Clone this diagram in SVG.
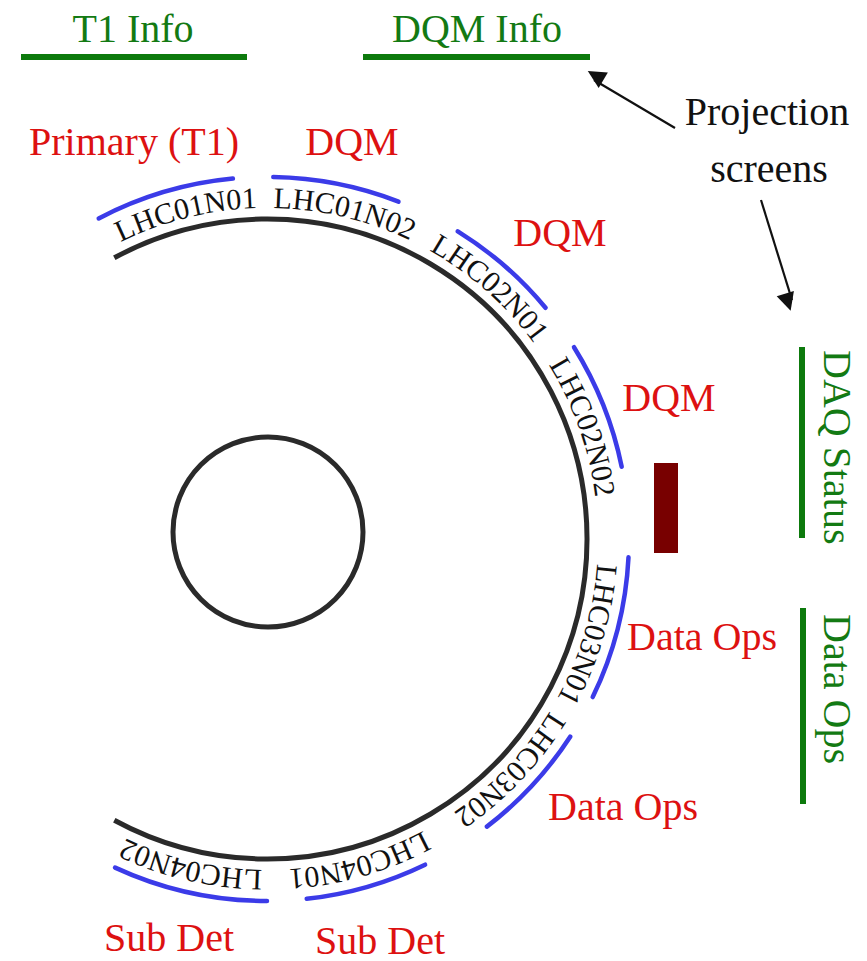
<svg xmlns="http://www.w3.org/2000/svg" xmlns:xlink="http://www.w3.org/1999/xlink" width="867" height="961" viewBox="0 0 867 961">
<style>
.lbl{font-family:"Liberation Serif","Times New Roman",serif;font-size:40px}
.red{fill:#dd1111}
.grn{fill:#137a13}
.blk{fill:#111}
.gline{stroke:#0d7a0d;stroke-width:6;fill:none}
.blue{stroke:#3b3be8;stroke-width:4.5;fill:none;stroke-linecap:round}
.ring{stroke:#2a2a2a;stroke-width:5;fill:none}
.node{font-family:"Liberation Serif","Times New Roman",serif;font-size:30px;fill:#111}
.arr{stroke:#111;stroke-width:2.2;fill:none}
</style>
<defs>
<marker id="ah" viewBox="0 0 10 10" refX="9" refY="5" markerWidth="9" markerHeight="9" markerUnits="userSpaceOnUse" orient="auto" style="overflow:visible">
<path d="M0,0 L10,5 L0,10 z" fill="#111" transform="scale(2)" />
</marker>
<path id="tp" d="M -64 539 A 331 331 0 1 1 598 539 A 331 331 0 1 1 -64 539" />
</defs>
<rect width="867" height="961" fill="#fff"/>

<g id="screens">
<g id="t1info"><line class="gline" x1="21" y1="57" x2="247" y2="57"/><text class="lbl grn" x="133" y="42" text-anchor="middle">T1 Info</text></g>
<g id="dqminfo"><line class="gline" x1="363" y1="57" x2="590" y2="57"/><text class="lbl grn" x="477" y="42" text-anchor="middle">DQM Info</text></g>
<g id="daqstatus"><line class="gline" x1="802" y1="347" x2="802" y2="538"/><text class="lbl grn" transform="translate(824 350) rotate(90)">DAQ Status</text></g>
<g id="dataopsscreen"><line class="gline" x1="803" y1="608" x2="803" y2="804"/><text class="lbl grn" transform="translate(824 614) rotate(90)">Data Ops</text></g>
<g id="projection"><text class="lbl blk" x="767" y="125" text-anchor="middle">Projection</text><text class="lbl blk" x="769" y="182" text-anchor="middle">screens</text></g>
</g>

<g id="room">
<path class="ring" d="M 114.3 257.8 A 320 320 0 1 1 114.3 820.2"/>
<circle class="ring" cx="268" cy="532" r="95" stroke-width="4"/>
<rect id="door" x="654" y="463" width="24" height="90" fill="#780000"/>
</g>

<g id="LHC01N01"><path class="blue" d="M 98.7 218.5 A 362 362 0 0 1 232.9 178.6"/><text class="node"><textPath xlink:href="#tp" href="#tp" startOffset="439" text-anchor="middle">LHC01N01</textPath></text><text class="lbl red" x="134" y="155" text-anchor="middle">Primary (T1)</text></g>
<g id="LHC01N02"><path class="blue" d="M 273.3 177.1 A 362 362 0 0 1 398.5 201.7"/><text class="node"><textPath xlink:href="#tp" href="#tp" startOffset="597" text-anchor="middle">LHC01N02</textPath></text><text class="lbl red" x="352" y="155" text-anchor="middle">DQM</text></g>
<g id="LHC02N01"><path class="blue" d="M 457.8 231.3 A 362 362 0 0 1 545.5 307.8"/><text class="node"><textPath xlink:href="#tp" href="#tp" startOffset="760" text-anchor="middle">LHC02N01</textPath></text><text class="lbl red" x="560" y="246" text-anchor="middle">DQM</text></g>
<g id="LHC02N02"><path class="blue" d="M 574 347.2 A 362 362 0 0 1 621.7 466.8"/><text class="node"><textPath xlink:href="#tp" href="#tp" startOffset="927" text-anchor="middle">LHC02N02</textPath></text><text class="lbl red" x="669" y="411" text-anchor="middle">DQM</text></g>
<g id="LHC03N01"><path class="blue" d="M 628.5 557.3 A 362 362 0 0 1 592.7 697.1"/><text class="node"><textPath xlink:href="#tp" href="#tp" startOffset="1135" text-anchor="middle">LHC03N01</textPath></text><text class="lbl red" x="702" y="650" text-anchor="middle">Data Ops</text></g>
<g id="LHC03N02"><path class="blue" d="M 570.2 736.7 A 362 362 0 0 1 486.9 826.6"/><text class="node"><textPath xlink:href="#tp" href="#tp" startOffset="1291" text-anchor="middle">LHC03N02</textPath></text><text class="lbl red" x="623" y="820" text-anchor="middle">Data Ops</text></g>
<g id="LHC04N01"><path class="blue" d="M 425.1 864.7 A 362 362 0 0 1 306.7 898.8"/><text class="node"><textPath xlink:href="#tp" href="#tp" startOffset="1467" text-anchor="middle">LHC04N01</textPath></text><text class="lbl red" x="380" y="954" text-anchor="middle">Sub Det</text></g>
<g id="LHC04N02"><path class="blue" d="M 267 901 A 362 362 0 0 1 115.1 867.6"/><text class="node"><textPath xlink:href="#tp" href="#tp" startOffset="1635" text-anchor="middle">LHC04N02</textPath></text><text class="lbl red" x="169" y="951" text-anchor="middle">Sub Det</text></g>

<g id="connectors">
<line class="arr" x1="675" y1="128" x2="594" y2="80" marker-end="url(#ah)"/>
<line class="arr" x1="761" y1="200" x2="792" y2="300" marker-end="url(#ah)"/>
</g>
</svg>
